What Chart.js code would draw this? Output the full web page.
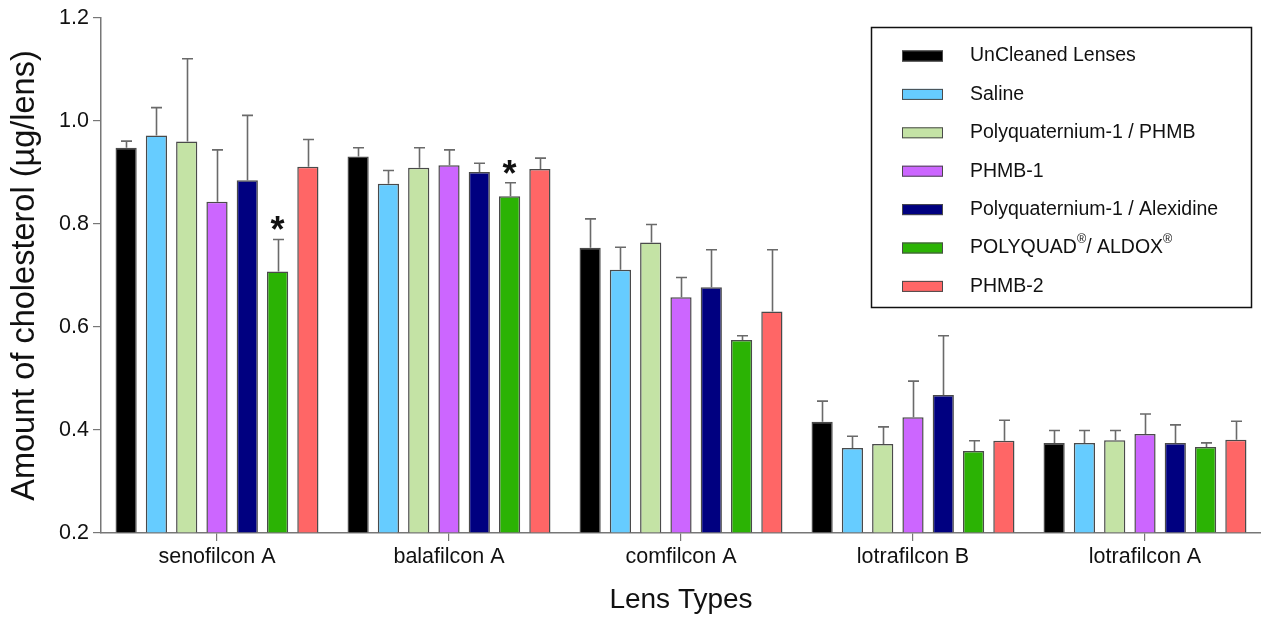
<!DOCTYPE html>
<html>
<head>
<meta charset="utf-8">
<script src="https://cdn.jsdelivr.net/npm/chart.js@4.4.1/dist/chart.umd.min.js"></script>
<style>
  html, body { margin: 0; padding: 0; background: #fff; overflow: hidden; }
  #wrap { width: 1261px; height: 617px; position: relative; }
</style>
</head>
<body>
<div id="wrap"><canvas id="chart"></canvas></div>
<script>
const FONT = "'Liberation Sans', Arial, Helvetica, sans-serif";

// Lens materials on the x axis
const categories = ['senofilcon A', 'balafilcon A', 'comfilcon A', 'lotrafilcon B', 'lotrafilcon A'];

// Cleaning regimens (legend order)
const seriesNames = [
  'UnCleaned Lenses',
  'Saline',
  'Polyquaternium-1 / PHMB',
  'PHMB-1',
  'Polyquaternium-1 / Alexidine',
  'POLYQUAD®/ ALDOX®',
  'PHMB-2'
];
const seriesColors = ['#000000', '#66ccff', '#c4e3a5', '#cc66ff', '#000080', '#2bb304', '#ff6666'];

// Mean cholesterol (µg/lens) per lens type
const uncleaned     = [0.948, 0.931, 0.754, 0.416, 0.375];
const saline        = [0.972, 0.878, 0.711, 0.365, 0.375];
const pq1Phmb       = [0.960, 0.909, 0.764, 0.373, 0.380];
const phmb1         = [0.843, 0.914, 0.658, 0.425, 0.392];
const pq1Alexidine  = [0.885, 0.901, 0.677, 0.468, 0.375];
const polyquadAldox = [0.708, 0.854, 0.575, 0.359, 0.367];
const phmb2         = [0.911, 0.907, 0.630, 0.379, 0.381];

// Standard deviations (upper whiskers)
const uncleanedSd     = [0.013, 0.017, 0.056, 0.040, 0.024];
const salineSd        = [0.054, 0.026, 0.044, 0.023, 0.024];
const pq1PhmbSd       = [0.161, 0.039, 0.035, 0.033, 0.019];
const phmb1Sd         = [0.101, 0.030, 0.038, 0.070, 0.039];
const pq1AlexidineSd  = [0.126, 0.017, 0.073, 0.115, 0.035];
const polyquadAldoxSd = [0.062, 0.026, 0.008, 0.020, 0.008];
const phmb2Sd         = [0.053, 0.021, 0.120, 0.040, 0.036];

// Significant differences vs. uncleaned: [series index, category index]
const significant = [[5, 0], [5, 1]];

// Value axis
const yMin = 0.2;
const yMax = 1.2;
const yStep = 0.2;

const seriesValues = [uncleaned, saline, pq1Phmb, phmb1, pq1Alexidine, polyquadAldox, phmb2];
const seriesSd = [uncleanedSd, salineSd, pq1PhmbSd, phmb1Sd, pq1AlexidineSd, polyquadAldoxSd, phmb2Sd];

const datasets = seriesNames.map((name, i) => ({
  label: name,
  data: seriesValues[i],
  sd: seriesSd[i],
  base: yMin,
  backgroundColor: seriesColors[i],
  borderColor: '#4a4a4a',
  borderWidth: 1.5,
  borderSkipped: 'start',
  categoryPercentage: 0.914,
  barPercentage: 0.7
}));

// Upper error whiskers with caps, plus significance stars
const errorBars = {
  id: 'errorBars',
  afterDatasetsDraw(chart) {
    const ctx = chart.ctx;
    const yScale = chart.scales.y;
    ctx.save();
    ctx.strokeStyle = '#6a6a6a';
    ctx.lineWidth = 1.6;
    chart.data.datasets.forEach((ds, di) => {
      const meta = chart.getDatasetMeta(di);
      meta.data.forEach((bar, j) => {
        const top = yScale.getPixelForValue(ds.data[j] + ds.sd[j]);
        const x = Math.round(bar.x) + 0.5;
        ctx.beginPath();
        ctx.moveTo(x, bar.y);
        ctx.lineTo(x, top);
        ctx.moveTo(x - 5.5, top);
        ctx.lineTo(x + 5.5, top);
        ctx.stroke();
      });
    });
    ctx.fillStyle = '#111';
    ctx.font = 'bold 36px ' + FONT;
    ctx.textAlign = 'center';
    ctx.textBaseline = 'alphabetic';
    significant.forEach(([di, j]) => {
      const ds = chart.data.datasets[di];
      const bar = chart.getDatasetMeta(di).data[j];
      const top = yScale.getPixelForValue(ds.data[j] + ds.sd[j]);
      const m = ctx.measureText('*');
      const glyphMid = (m.actualBoundingBoxAscent - m.actualBoundingBoxDescent) / 2;
      ctx.fillText('*', bar.x, top - 16 + glyphMid);
    });
    ctx.restore();
  }
};

// Boxed legend in the upper right of the plot
const boxLegend = {
  id: 'boxLegend',
  afterDraw(chart) {
    const ctx = chart.ctx;
    const area = chart.chartArea;
    const left = area.right - 390, top = area.top + 9, width = 380, height = 280;
    ctx.save();
    ctx.fillStyle = '#fff';
    ctx.fillRect(left, top, width, height);
    ctx.strokeStyle = '#111';
    ctx.lineWidth = 1.5;
    ctx.strokeRect(left + 0.5, top + 0.5, width, height);
    const rowH = 38.4;
    chart.data.datasets.forEach((ds, i) => {
      const cy = top + 29 + i * rowH;
      ctx.fillStyle = ds.backgroundColor;
      ctx.fillRect(left + 31, cy - 5.5, 41, 11);
      ctx.strokeStyle = '#4a4a4a';
      ctx.lineWidth = 1;
      ctx.strokeRect(left + 31.5, cy - 5, 40, 10);
      // label text, with ® set as a superscript
      let x = left + 99;
      ctx.fillStyle = '#111';
      ctx.textBaseline = 'middle';
      ctx.textAlign = 'left';
      const parts = ds.label.split(/(®)/);
      parts.forEach(p => {
        if (!p) return;
        if (p === '®') {
          ctx.font = '12.5px ' + FONT;
          ctx.fillText(p, x, cy - 8);
        } else {
          ctx.font = '19.5px ' + FONT;
          ctx.fillText(p, x, cy);
        }
        x += ctx.measureText(p).width;
      });
    });
    ctx.restore();
  }
};

new Chart(document.getElementById('chart'), {
  type: 'bar',
  data: { labels: categories, datasets },
  plugins: [errorBars, boxLegend],
  options: {
    responsive: true,
    maintainAspectRatio: false,
    animation: false,
    devicePixelRatio: 1,
    layout: { padding: { top: 18, left: 0, right: 0, bottom: 0 } },
    plugins: {
      legend: { display: false },
      tooltip: { enabled: false }
    },
    scales: {
      x: {
        offset: true,
        grid: {
          offset: false,
          drawOnChartArea: false,
          drawTicks: true,
          tickLength: 8,
          color: '#777',
          lineWidth: 1.2
        },
        border: { display: true, color: '#777', width: 1.5 },
        ticks: {
          color: '#111',
          font: { family: FONT, size: 21.5 },
          padding: 3,
          maxRotation: 0
        },
        title: {
          display: true,
          text: 'Lens Types',
          color: '#111',
          font: { family: FONT, size: 28 },
          padding: { top: 0, bottom: 0 }
        },
        afterFit(scale) { scale.height = 84; }
      },
      y: {
        min: yMin,
        max: yMax,
        grid: {
          drawOnChartArea: false,
          drawTicks: true,
          tickLength: 8,
          color: '#777',
          lineWidth: 1.2
        },
        border: { display: true, color: '#777', width: 1.5 },
        ticks: {
          stepSize: yStep,
          color: '#111',
          font: { family: FONT, size: 21.5 },
          padding: 4,
          callback: v => v.toFixed(1)
        },
        title: {
          display: true,
          text: 'Amount of cholesterol (µg/lens)',
          color: '#111',
          font: { family: FONT, size: 32.5 },
          padding: { top: 6, bottom: 0 }
        },
        afterFit(scale) { scale.width = 101; }
      }
    }
  }
});
</script>
</body>
</html>
